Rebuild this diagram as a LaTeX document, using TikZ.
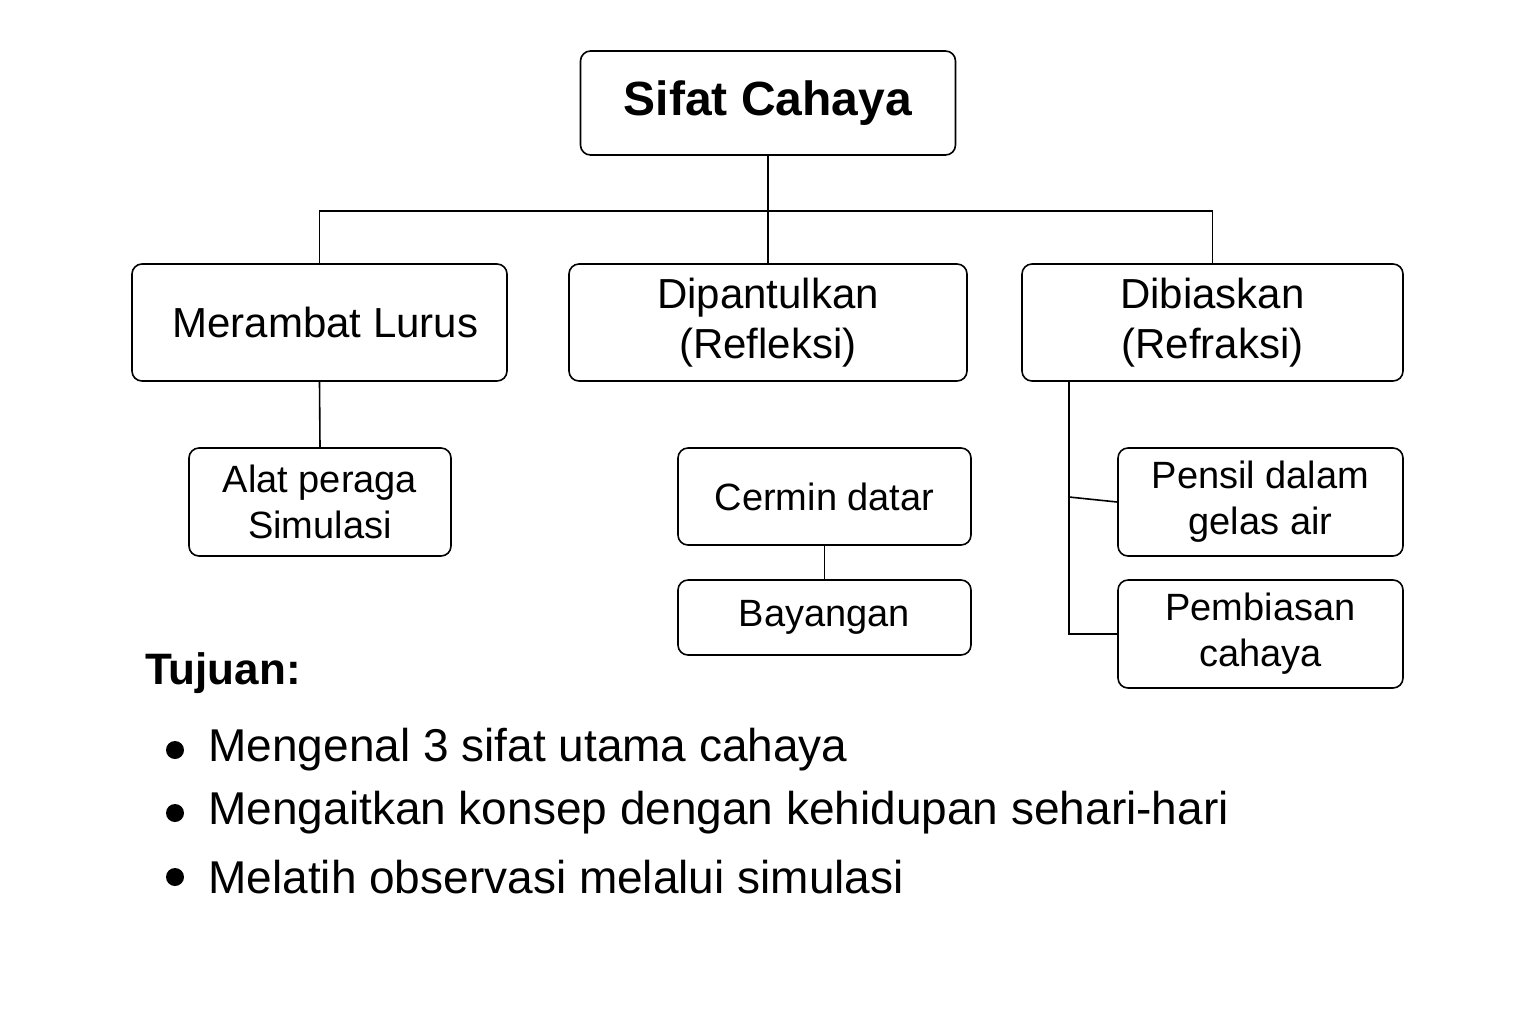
\documentclass[tikz,border=0pt]{standalone}
\usepackage{fontspec}
\setmainfont{Liberation Sans}
\begin{document}
\begin{tikzpicture}[x=0.5pt,y=-0.5pt,
 bx/.style={draw,rounded corners=5pt,line width=0.8pt,align=center,inner sep=0pt},
 ln/.style={line width=0.8pt}]
\useasboundingbox (0,0) rectangle (1536,1024);
\fill[white] (0,0) rectangle (1536,1024);
\node[bx,minimum width=187.5pt,minimum height=52pt,font=\fontsize{24}{28}\selectfont\bfseries] (root) at (768,103) {Sifat Cahaya};
\node[bx,minimum width=187.5pt,minimum height=58.5pt,font=\fontsize{21}{25}\selectfont] (a) at (319.5,322.5) {\ Merambat Lurus};
\node[bx,minimum width=199pt,minimum height=58.5pt,font=\fontsize{21}{25}\selectfont] (b) at (768,322.5) {Dipantulkan\\(Refleksi)};
\node[bx,minimum width=190.5pt,minimum height=58.5pt,font=\fontsize{21}{25}\selectfont] (c) at (1212.5,322.5) {Dibiaskan\\(Refraksi)};
\node[bx,minimum width=131pt,minimum height=54pt,font=\fontsize{19}{23}\selectfont] (a1) at (320,502) {Alat peraga\\Simulasi};
\node[bx,minimum width=146.5pt,minimum height=48.5pt,font=\fontsize{19}{23}\selectfont] (b1) at (824.5,496.5) {Cermin datar};
\node[bx,minimum width=146.5pt,minimum height=37.5pt,font=\fontsize{19}{23}\selectfont] (b2) at (824.5,617.5) {Bayangan};
\node[bx,minimum width=142.5pt,minimum height=54pt,font=\fontsize{19}{23}\selectfont] (c1) at (1260.5,502) {Pensil dalam\\gelas air};
\node[bx,minimum width=142.5pt,minimum height=54pt,font=\fontsize{19}{23}\selectfont] (c2) at (1260.5,634) {Pembiasan\\cahaya};
\coordinate (j) at (768,211);
\draw[ln] (root.south) -- (j);
\draw[ln] (a.north) |- (j) -| (c.north);
\draw[ln] (j) -- (b.north);
\draw[ln] (a.south) -- (a1.north);
\draw[ln] (b1.south) -- (b2.north);
\coordinate (t) at (1069,381);
\draw[ln] (t) |- (c2.west);
\draw[ln] (1069,497) -- (c1.west);
\node[anchor=west,font=\fontsize{22}{26}\selectfont\bfseries] (tuj) at (138,673) {Tujuan:};
\foreach \y/\t [count=\i] in {750/Mengenal 3 sifat utama cahaya,813/Mengaitkan konsep dengan kehidupan sehari-hari,877/Melatih observasi melalui simulasi}{
 \fill (175,\y) circle (4.5pt);
 \node[anchor=west,inner sep=0pt,font=\fontsize{23}{27}\selectfont] (bl\i) at (208,\y) {\t};
}
\end{tikzpicture}
\end{document}
